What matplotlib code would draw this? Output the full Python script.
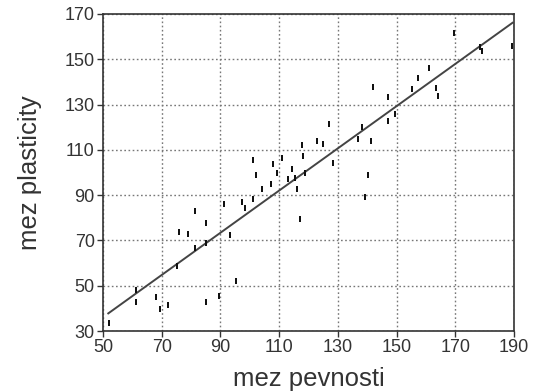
import numpy as np
import matplotlib
matplotlib.use('Agg')
import matplotlib.pyplot as plt

# hodnoty
mez_pevnosti = [52.0, 61.3, 61.3, 68.1, 69.5, 72.1, 75.1, 76.0, 79.0, 81.2,
                81.2, 85.2, 85.2, 85.2, 89.4, 91.3, 93.3, 95.2, 97.3, 98.5,
                101.1, 101.1, 102.2, 104.2, 107.3, 107.9, 109.3, 111.0, 112.9, 114.4,
                115.5, 116.1, 117.2, 117.8, 118.2, 118.9, 122.9, 125.1, 126.9, 128.4,
                136.9, 138.3, 139.2, 140.2, 141.4, 142.0, 147.2, 147.2, 149.4, 155.4,
                157.3, 161.1, 163.3, 164.1, 169.6, 178.4, 179.2, 189.2]
mez_plasticity = [33.7, 42.9, 48.1, 44.9, 39.7, 41.5, 58.7, 73.9, 72.8, 83.0,
                  66.5, 77.8, 68.7, 42.9, 45.5, 86.1, 72.4, 52.1, 87.1, 84.2,
                  88.2, 105.6, 98.9, 92.7, 94.9, 103.6, 99.7, 106.3, 97.0, 101.6,
                  97.4, 92.7, 79.3, 112.3, 107.5, 99.8, 113.9, 112.6, 121.4, 104.3,
                  114.7, 120.0, 89.3, 98.9, 114.1, 137.9, 133.5, 122.9, 125.7, 136.8,
                  141.6, 146.0, 137.2, 133.8, 161.5, 155.6, 153.8, 155.9]

# regresni primka
smernice = 0.932
posun = -10.5
primka_od = 51.8
primka_do = 189.5

x_ticks = [50, 70, 90, 110, 130, 150, 170, 190]
y_ticks = [30, 50, 70, 90, 110, 130, 150, 170]

plt.rcParams['font.family'] = ['Liberation Sans', 'DejaVu Sans']

fig = plt.figure(figsize=(5.35, 3.92), dpi=100)
ax = fig.add_axes([0.1925, 0.1556, 0.7682, 0.8087])

box = [(-0.35, -1), (0.35, -1), (0.35, 1), (-0.35, 1)]
ax.scatter(mez_pevnosti, mez_plasticity, marker=box, s=24, color='#111111',
           linewidths=0, zorder=3)

xs = np.array([primka_od, primka_do])
ax.plot(xs, smernice * xs + posun, color='#444444', linewidth=1.4, zorder=2)

ax.set_xlim(50, 190)
ax.set_ylim(30, 170)
ax.set_xticks(x_ticks)
ax.set_yticks(y_ticks)
ax.grid(True, linestyle=(0, (1.2, 1.8)), color='#777777', linewidth=1.0)
ax.tick_params(labelsize=13, colors='#333333', length=4, width=1, pad=2)
for s in ax.spines.values():
    s.set_color('#333333')
    s.set_linewidth(1.2)

ax.set_xlabel('mez pevnosti', fontsize=18.5, color='#333333', labelpad=8)
ax.set_ylabel('mez plasticity', fontsize=18.5, color='#333333', labelpad=16)

fig.savefig('out.png', dpi=100)
